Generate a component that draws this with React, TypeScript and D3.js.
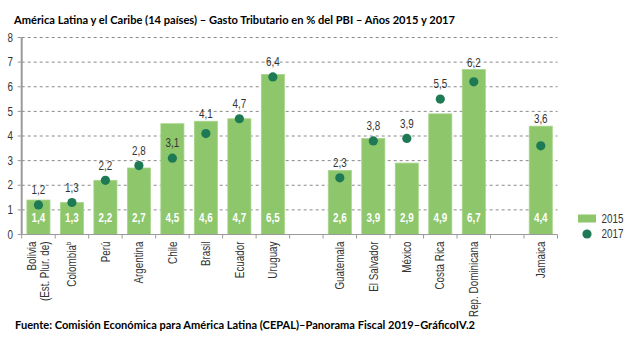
import React from "react";
import * as d3 from "d3";

const slots = [
  "Bolivia", "Colombia", "Perú", "Argentina", "Chile", "Brasil", "Ecuador", "Uruguay",
  "_gap1",
  "Guatemala", "El Salvador", "México", "Costa Rica", "Rep. Dominicana",
  "_gap2",
  "Jamaica",
];
const countries = [
  "Bolivia", "Colombia", "Perú", "Argentina", "Chile", "Brasil", "Ecuador", "Uruguay",
  "Guatemala", "El Salvador", "México", "Costa Rica", "Rep. Dominicana", "Jamaica",
];
const values2015 = [1.4, 1.3, 2.2, 2.7, 4.5, 4.6, 4.7, 6.5, 2.6, 3.9, 2.9, 4.9, 6.7, 4.4];
const values2017 = [1.2, 1.3, 2.2, 2.8, 3.1, 4.1, 4.7, 6.4, 2.3, 3.8, 3.9, 5.5, 6.2, 3.6];
const yTicks = [0, 1, 2, 3, 4, 5, 6, 7, 8];
const seriesNames = ["2015", "2017"];
const title = "América Latina y el Caribe (14 países) – Gasto Tributario en % del PBI – Años 2015 y 2017";
const source = "Fuente: Comisión Económica para América Latina (CEPAL)–Panorama Fiscal 2019–GráficoIV.2";

const BAR = "#8dc66b";
const DOT = "#1d7a55";
const AXIS = "#9a9a9a";
const SANS = "'Liberation Sans', Arial, sans-serif";
const TITLEF = "Lato, 'Open Sans', sans-serif";
const SX = 0.82;

const fmt = (v: number) => v.toFixed(1).replace(".", ",");

function NText(props: { x: number; y: number; anchor?: string; bold?: boolean; fill?: string; size?: number; children: React.ReactNode; rotate?: number; dy?: string }) {
  const { x, y, anchor = "middle", bold, fill = "#333", size = 12, children, rotate = 0, dy = "0.35em" } = props;
  return (
    <text
      transform={`translate(${x},${y}) rotate(${rotate}) scale(${SX},1)`}
      textAnchor={anchor}
      dy={dy}
      fontFamily={SANS}
      fontWeight={bold ? 700 : 400}
      fontSize={size}
      fill={fill}
    >
      {children}
    </text>
  );
}

export default function App() {
  const W = 630, H = 349;
  const x0 = 21.7, x1 = 557.5;
  const x = d3.scaleBand<string>().domain(slots).range([x0, x1]).paddingInner(0.31).paddingOuter(0.155);
  const y = d3.scaleLinear().domain([0, 8]).range([234.5, 37.5]);

  const boundaries = d3.range(slots.length + 1).map((i) => x0 + i * (x1 - x0) / slots.length);

  return (
    <svg width={W} height={H} style={{ position: "absolute", left: 0, top: 0, background: "#fff" }}>
      <rect width={W} height={H} fill="#fff" />
      <text x={14} y={24} fontFamily={TITLEF} fontWeight={700} fontSize={11.1} fill="#000" textLength={441} lengthAdjust="spacingAndGlyphs">{title}</text>

      {yTicks.filter((t) => t > 0).map((t) => (
        <line key={t} x1={x0} x2={x1} y1={y(t)} y2={y(t)} stroke="#8a8a8a" strokeWidth={1} strokeDasharray="3,3" />
      ))}
      {yTicks.map((t) => (
        <g key={"yt" + t}>
          <line x1={x0 - 4} x2={x0} y1={y(t)} y2={y(t)} stroke={AXIS} strokeWidth={1} />
          <NText x={13} y={y(t)} anchor="end">{t}</NText>
        </g>
      ))}

      {countries.map((c, i) => {
        const bx = x(c)!;
        const bw = x.bandwidth();
        return (
          <g key={"b" + c}>
            <rect x={bx} y={y(values2015[i])} width={bw} height={y(0) - y(values2015[i])} fill={BAR} stroke="#a9d68c" strokeWidth={0.8} />
            <NText x={bx + bw / 2} y={218} bold fill="#fff">{fmt(values2015[i])}</NText>
          </g>
        );
      })}

      <line x1={x0} x2={x0} y1={y(8)} y2={y(0)} stroke={AXIS} strokeWidth={2} />
      <line x1={x0} x2={x1} y1={y(0)} y2={y(0)} stroke={AXIS} strokeWidth={1.2} />
      {boundaries.map((b, i) => (
        <line key={"xt" + i} x1={b} x2={b} y1={y(0)} y2={y(0) + 4} stroke={AXIS} strokeWidth={1} />
      ))}

      {countries.map((c, i) => {
        const cx = x(c)! + x.bandwidth() / 2;
        const v = values2017[i];
        const b = values2015[i];
        const dotY = y(v);
        const barTop = y(b);
        const ly = b - v > 1 ? dotY - 15 : Math.min(dotY - 15, barTop - 7);
        return (
          <g key={"d" + c}>
            <circle cx={cx} cy={dotY} r={4.6} fill={DOT} />
            <NText x={cx} y={ly}>{fmt(v)}</NText>
          </g>
        );
      })}

      {countries.map((c) => {
        const cx = x(c)! + x.bandwidth() / 2;
        const top = 241.5;
        if (c === "Bolivia") {
          return (
            <text key={"xl" + c} transform={`translate(${cx},${top}) rotate(-90) scale(${SX},1)`} textAnchor="end" fontFamily={SANS} fontSize={12} fill="#333">
              <tspan x={0} dy="-0.2em">Bolivia</tspan>
              <tspan x={0} dy="1.1em">(Est. Plur. de)</tspan>
            </text>
          );
        }
        if (c === "Colombia") {
          return (
            <text key={"xl" + c} transform={`translate(${cx},${top}) rotate(-90) scale(${SX},1)`} textAnchor="end" fontFamily={SANS} fontSize={12} fill="#333">
              <tspan dy="0.35em">Colombia</tspan>
              <tspan fontSize={8} dy="-0.6em">b</tspan>
            </text>
          );
        }
        return (
          <NText key={"xl" + c} x={cx} y={top} rotate={-90} anchor="end">{c}</NText>
        );
      })}

      <rect x={578} y={214.5} width={18} height={8} fill={BAR} />
      <NText x={601.5} y={218.5} anchor="start">{seriesNames[0]}</NText>
      <circle cx={587} cy={234} r={4.6} fill={DOT} />
      <NText x={601.5} y={234} anchor="start">{seriesNames[1]}</NText>

      <text x={15} y={329} fontFamily={TITLEF} fontWeight={700} fontSize={11.1} fill="#000" textLength={460} lengthAdjust="spacingAndGlyphs">{source}</text>
    </svg>
  );
}
